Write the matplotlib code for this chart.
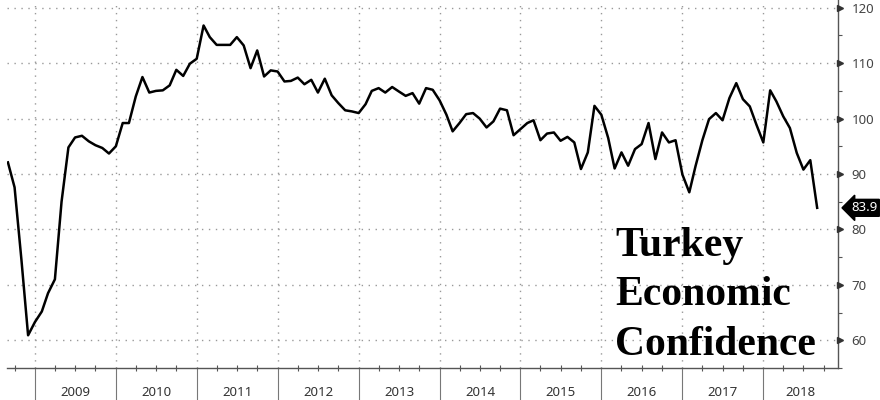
import matplotlib
matplotlib.use("Agg")
import matplotlib.pyplot as plt
import matplotlib.dates as mdates
import matplotlib.transforms as mtransforms
import pandas as pd

# Turkey economic confidence index, monthly, Sep 2008 - Sep 2018
start_month = "2008-09-01"
confidence = [
    92.1, 87.6, 74.5, 60.9,
    63.3, 65.2, 68.5, 71.0, 85.0, 94.8, 96.6, 96.9, 95.9, 95.2, 94.7, 93.7,
    95.0, 99.2, 99.2, 104.0, 107.5, 104.7, 105.0, 105.1, 106.0, 108.8, 107.7, 109.9,
    110.8, 116.8, 114.7, 113.3, 113.3, 113.3, 114.7, 113.2, 109.1, 112.3, 107.6, 108.7,
    108.5, 106.7, 106.8, 107.4, 106.2, 107.0, 104.7, 107.2, 104.2, 102.8, 101.5, 101.3,
    101.0, 102.6, 105.0, 105.5, 104.7, 105.7, 104.9, 104.1, 104.6, 102.7, 105.5, 105.2,
    103.3, 100.7, 97.7, 99.2, 100.8, 101.0, 100.0, 98.4, 99.5, 101.8, 101.5, 97.0,
    98.1, 99.2, 99.7, 96.1, 97.3, 97.5, 96.0, 96.7, 95.7, 90.9, 93.9, 102.3,
    100.7, 96.5, 91.0, 93.9, 91.5, 94.5, 95.4, 99.2, 92.7, 97.5, 95.7, 96.1,
    89.9, 86.7, 91.4, 96.1, 99.9, 101.0, 99.7, 103.7, 106.4, 103.5, 102.2, 98.9,
    95.7, 105.1, 103.1, 100.4, 98.3, 93.8, 90.8, 92.5, 83.9,
]
years = list(range(2009, 2019))
y_ticks = [60, 70, 80, 90, 100, 110, 120]
title_lines = ["Turkey", "Economic", "Confidence"]

dates = pd.date_range(start_month, periods=len(confidence), freq="MS")
x_left = pd.Timestamp("2008-08-28")
x_right = pd.Timestamp("2018-12-03")

fig = plt.figure(figsize=(8.8, 4.0), dpi=100)
ax = fig.add_axes([0.008, 0.08, 0.944, 0.92])

ax.plot(dates, confidence, color="black", lw=1.8, zorder=3)

ax.set_xlim(x_left, x_right)
ax.set_ylim(55.1, 121.4)

# spines
for side in ("left", "top"):
    ax.spines[side].set_visible(False)
for side in ("right", "bottom"):
    ax.spines[side].set_color("#555555")
    ax.spines[side].set_linewidth(1.0)

# x axis: year separators + quarter ticks
ax.xaxis.set_major_locator(mdates.YearLocator())
ax.xaxis.set_minor_locator(mdates.MonthLocator(bymonth=[4, 7, 10]))
ax.xaxis.set_major_formatter(plt.NullFormatter())
ax.tick_params(axis="x", which="major", length=24, width=0.8, color="#777777", direction="out")
ax.tick_params(axis="x", which="minor", length=4, width=0.8, color="#555555", direction="inout")

xt = ax.get_xaxis_transform()
for yr in years:
    a = pd.Timestamp(f"{yr}-01-01")
    b = min(pd.Timestamp(f"{yr + 1}-01-01"), x_right)
    mid = a + (b - a) / 2
    ax.text(mid, -0.066, str(yr), transform=xt, ha="center", va="center",
            fontsize=9.5, color="#333333", family="Noto Sans")

# y axis on the right
ax.yaxis.tick_right()
ax.set_yticks(y_ticks)
ax.set_yticks([v + 5 for v in y_ticks[:-1]] + [55], minor=True)
ax.tick_params(axis="y", which="major", length=0, pad=10, labelsize=9.5, labelcolor="#444444")
ax.tick_params(axis="y", which="minor", length=3, width=0.8, color="#555555", direction="out")
for lab in ax.get_yticklabels():
    lab.set_family("Noto Sans")
yt = ax.get_yaxis_transform()
ax.plot([1.0] * len(y_ticks), y_ticks, ls="none", marker=">", ms=5, color="#333333",
        transform=mtransforms.offset_copy(yt, fig=fig, x=2.5, units="dots"),
        clip_on=False, zorder=4)

# grid
ax.grid(True, which="major", axis="both", color="#999999", lw=1.0, ls=(0, (1, 4)))

# last value tag
ax.text(1.016, confidence[-1], f"{confidence[-1]:.1f}", transform=yt, ha="left", va="center",
        color="white", fontsize=9.5, family="Noto Sans",
        bbox=dict(boxstyle="larrow,pad=0.15", fc="black", ec="black"))

# big title
for i, line in enumerate(title_lines):
    fig.text(0.699, 0.36 - i * 0.1235, line, ha="left", va="baseline",
             fontsize=30, fontweight="bold", family="Liberation Serif", color="black")

fig.savefig("out.png", dpi=100)
